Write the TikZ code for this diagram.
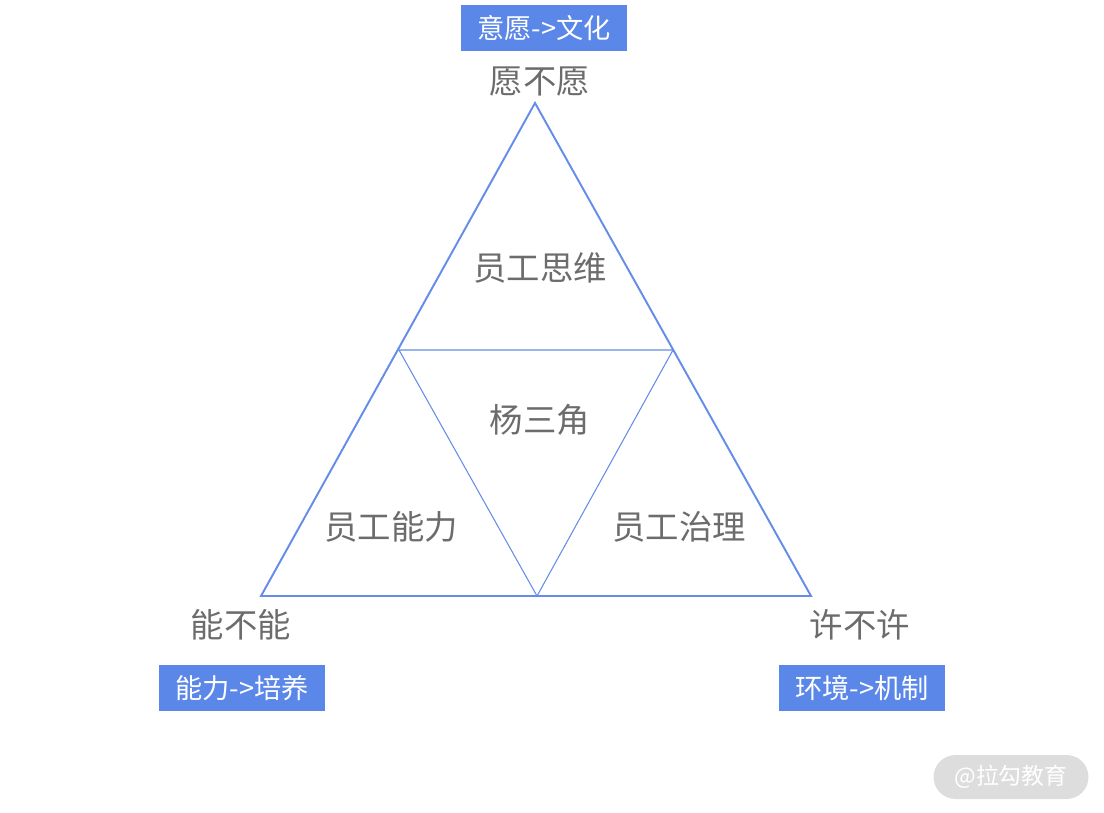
\documentclass[tikz,border=0pt]{standalone}
\usepackage{fontspec}
\setmainfont{Noto Sans CJK SC}
\usetikzlibrary{positioning}
\definecolor{triblue}{RGB}{100,140,232}
\definecolor{boxblue}{RGB}{91,135,232}
\definecolor{labelgray}{RGB}{108,108,108}
\definecolor{markgray}{RGB}{221,221,221}

\begin{document}
\begin{tikzpicture}[x=0.02cm, y=-0.02cm,
    corner/.style={text=labelgray, font=\fontsize{19}{23}\selectfont},
    part/.style={text=labelgray, font=\fontsize{19}{23}\selectfont},
    tagbox/.style={fill=boxblue, text=white, minimum width=3.32cm, minimum height=0.92cm, inner sep=0pt, font=\fontsize{15.5}{18}\selectfont},
    outer/.style={draw=triblue, line width=1.1pt, line join=miter},
    inner/.style={draw=triblue, line width=0.6pt}]
  \useasboundingbox (0,0) rectangle (1104,813);
  % corners of the big triangle and the midpoints
  \coordinate (top) at (535,103);
  \coordinate (bl) at (261,596);
  \coordinate (br) at (811,596);
  \coordinate (ml) at (399,350);
  \coordinate (mr) at (673,350);
  \coordinate (mb) at (537,596);
  \draw[outer] (top) -- (bl) -- (br) -- cycle;
  \draw[inner] (ml) -- (mr) -- (mb) -- cycle;
  % labels inside
  \node[part] (think) at (540,268) {员工思维};
  \node[part] (yang) at (540,420) {杨三角};
  \node[part] (able) at (391,527) {员工能力};
  \node[part] (govern) at (679,527) {员工治理};
  % labels at the corners
  \node[corner] (will) at (540,82) {愿不愿};
  \node[corner] (can) at (241,625) {能不能};
  \node[corner] (allow) at (860,625) {许不许};
  \node[tagbox] (culture) at (544,28) {意愿->文化};
  \node[tagbox] (train) at (242,688) {能力->培养};
  \node[tagbox] (rules) at (862,688) {环境->机制};
  \node[fill=markgray, text=white, rounded corners=0.44cm, minimum width=3.1cm, minimum height=0.88cm, inner sep=0pt, font=\fontsize{13}{15}\selectfont] (mark) at (1011,777) {@拉勾教育};
\end{tikzpicture}
\end{document}
